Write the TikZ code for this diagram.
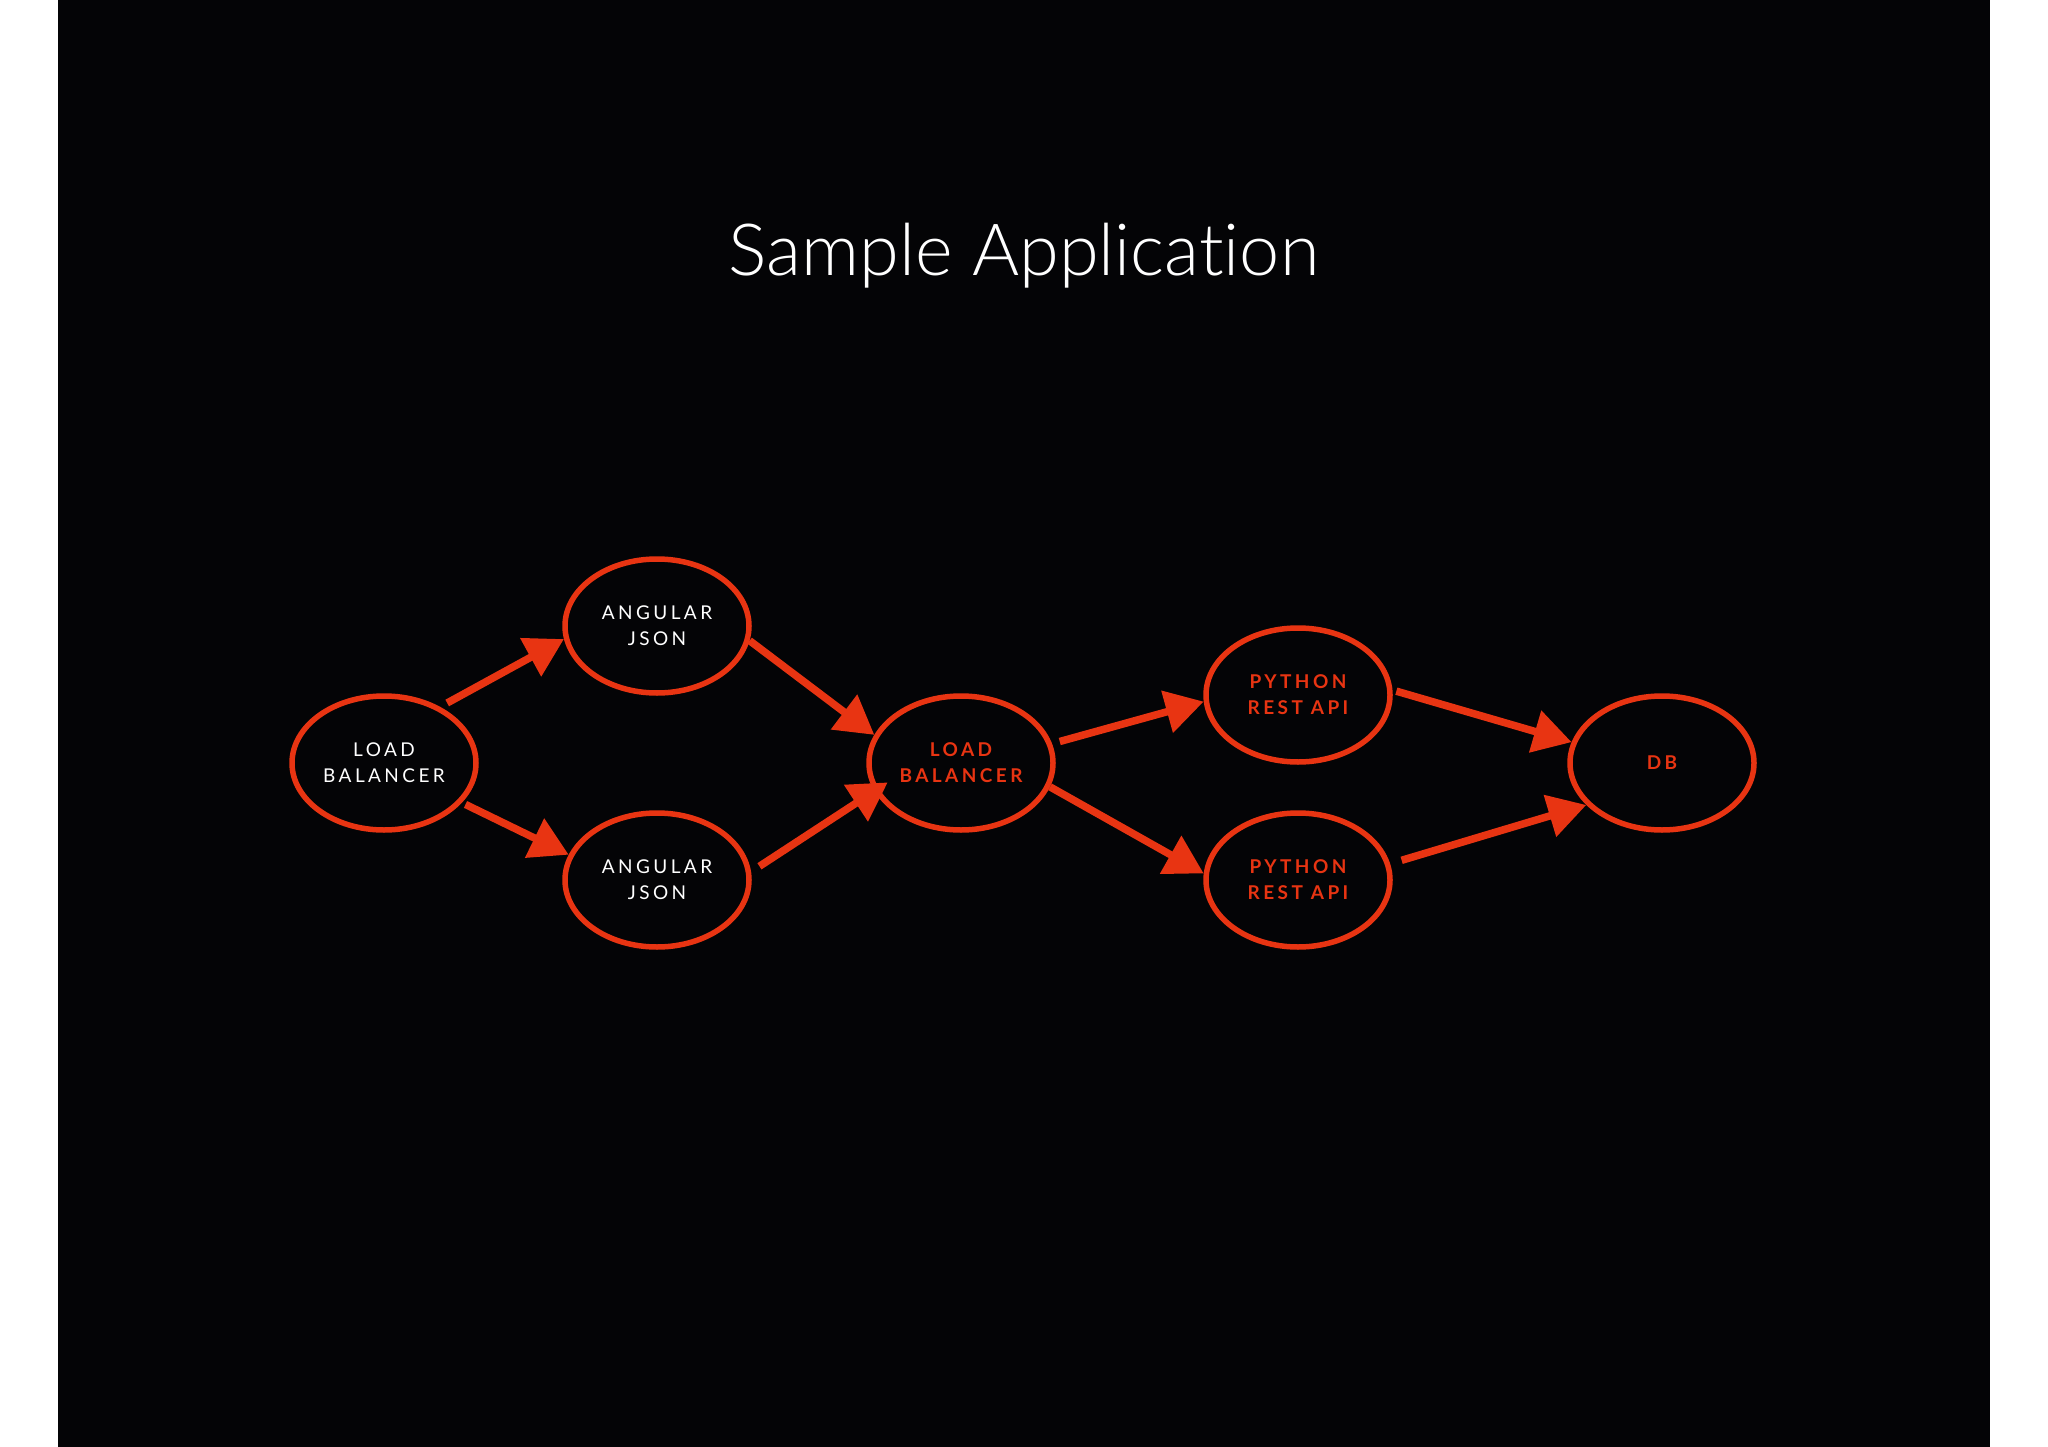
\documentclass[tikz,border=0pt]{standalone}
\usepackage{fontspec}
\setmainfont{Lato}
\IfFontExistsTF{Lato Light}{\newfontfamily\titlefont[Ligatures=NoCommon]{Lato Light}}{\newfontfamily\titlefont[Ligatures=NoCommon]{Lato}}
\usepackage{tikz}
\usetikzlibrary{arrows.meta, shapes.geometric}
\definecolor{sketchred}{RGB}{232,52,18}
\definecolor{slideblack}{RGB}{4,4,6}
\tikzstyle{tier}   = [ellipse, draw=sketchred, line width=5.5pt, minimum width=184pt,
                       minimum height=134pt, inner sep=0pt, align=center]
\tikzstyle{plain}  = [tier, text=white,
                       font={\fontsize{19}{26}\selectfont\addfontfeatures{LetterSpace=18}}]
\tikzstyle{hot}    = [tier, text=sketchred,
                       font={\bfseries\fontsize{19}{26}\selectfont\addfontfeatures{LetterSpace=18}}]
\tikzstyle{arr}    = [-{Triangle[length=38pt, width=42pt]}, line width=7.5pt, draw=sketchred]

\begin{document}
\begin{tikzpicture}[x=1pt, y=-1pt]
    \useasboundingbox (0,0) rectangle (2048,1447);
    \fill[white] (0,0) rectangle (2048,1447);
    \fill[slideblack] (58,0) rectangle (1990,1447);

    \node[text=white, font={\titlefont\fontsize{72}{80}\selectfont}, anchor=base]
         (title) at (1024,276) {Sample Application};

    \node[plain] (lb1) at (384,763) {LOAD\\BALANCER};
    \node[plain] (aj1) at (657,626) {ANGULAR\\JSON};
    \node[plain] (aj2) at (657,880) {ANGULAR\\JSON};
    \node[hot]   (lb2) at (961,763) {LOAD\\BALANCER};
    \node[hot]   (py1) at (1298,695) {PYTHON\\REST API};
    \node[hot]   (py2) at (1298,880) {PYTHON\\REST API};
    \node[hot]   (db)  at (1662,763) {DB};

    \draw[arr, shorten <=8pt] (lb1.45)  -- (aj1.188);
    \draw[arr, shorten <=4pt] (lb1.-27) -- (aj2.164);
    \draw[arr] (aj1.-9)  -- (lb2.162);
    \draw[arr, shorten <=10pt, shorten >=-16pt] (aj2.5) -- (lb2.198);
    \draw[arr, shorten <=8pt] (lb2.12)  -- (py1.184);
    \draw[arr] (lb2.-15) -- (py2.176);
    \draw[arr, shorten <=4pt] (py1.3)   -- (db.167);
    \draw[arr, shorten <=12pt] (py2.10) -- (db.209);
  \end{tikzpicture}
\end{document}
